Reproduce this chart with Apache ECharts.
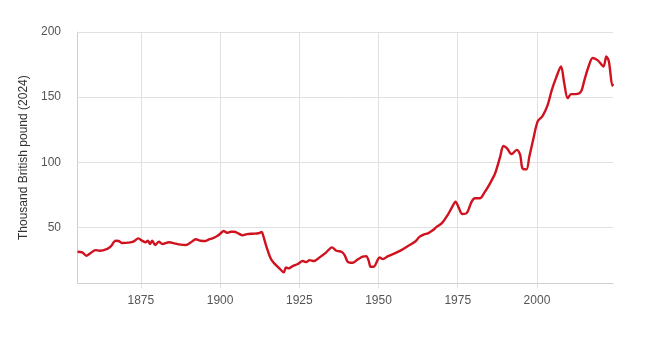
<!DOCTYPE html>
<html>
<head>
<meta charset="utf-8">
<script src="https://cdn.jsdelivr.net/npm/echarts@6/dist/echarts.min.js"></script>
<style>html,body{margin:0;padding:0;background:#fff;}#c{width:650px;height:341px;}</style>
</head>
<body>
<div id="c"></div>
<script>
var years = [1855,1856.5,1857.8,1859,1860.7,1862,1864.4,1865.6,1867,1868,1869,1871.2,1872.8,1874.2,1875.4,1876.5,1877.2,1877.9,1878.6,1879.5,1880.7,1881.8,1883.9,1885.5,1887,1889.2,1890.8,1892.3,1893.9,1895.5,1896.5,1897.6,1899.2,1900.2,1901.1,1902.2,1903.4,1904.5,1905.7,1907.1,1908.5,1910.3,1912.1,1913.1,1913.7,1914.8,1916.1,1917.1,1918.7,1920.1,1920.8,1921.7,1922.9,1924.5,1926.1,1927.2,1928.2,1929.6,1931.4,1933.5,1935.3,1936.7,1938.3,1939.3,1940.3,1941.9,1943.5,1945,1946.1,1946.9,1947.5,1948.5,1949.6,1950.3,1951.4,1953,1955.1,1957.2,1959.3,1961.5,1963,1964.4,1965.6,1967.2,1968.4,1969.9,1972,1973.3,1974.3,1975.4,1976.4,1977.8,1979.4,1980.4,1982,1983.4,1985.2,1986.8,1988.4,1989.4,1990.5,1992,1993.6,1994.7,1995.4,1996.7,1997.6,1998.8,2000.2,2001.8,2003.4,2004.7,2006,2007.6,2008.6,2009.7,2010.8,2012.3,2013.9,2015,2016.3,2017.6,2019.2,2021,2021.9,2022.7,2023.8,2024];
var values = [31.2,30.8,28.2,30,32.5,32,33.5,35.6,39.7,39.5,37.9,38.2,39.2,41.5,39.7,38.5,39.7,37.2,39.7,36.4,38.9,37.2,38.5,37.7,36.9,36.4,38.5,40.8,39.7,39.5,40.8,41.5,43.5,45.4,47.2,45.8,46.6,46.6,45.4,43.8,44.8,45.1,45.4,46.4,42.8,33.8,25.4,22.3,18.5,15.4,19.2,18.5,20.2,21.8,24.1,23.3,24.8,24.1,26.9,30.8,34.6,32,31.2,28.7,23.5,22.8,25.4,27.4,27.9,24.3,19.7,19.7,24.3,26.9,25.6,27.9,30,32.5,35.6,38.9,42.8,44.6,45.4,47.9,50.5,53,60.2,65.9,69.7,64.6,60.2,60.8,69.7,72.3,72.3,76.6,83.8,91.5,104.3,112.5,110.8,106.2,109.5,105.6,95.4,94.5,104.3,117.2,131.2,135.6,144.1,155.6,164.6,173.5,160.8,149.2,152.3,152.3,154.3,163.3,173.5,180,178.2,173.5,181.2,177.4,158.7,160.2];
var xTicks = [1875,1900,1925,1950,1975,2000];
var yTicks = [50,100,150,200];
var yTitle = 'Thousand British pound (2024)';

var data = years.map(function(y,i){return [y, values[i]];});
var gridMarks = yTicks.map(function(v){return {yAxis:v};}).concat(xTicks.map(function(v){return {xAxis:v};}));
var font = 'Liberation Sans, Arial, sans-serif';
var chart = echarts.init(document.getElementById('c'));
chart.setOption({
  animation:false,
  grid:{left:77.5,right:37,top:32,bottom:57.7},
  xAxis:{type:'value',min:1855,max:2024,
    axisLine:{show:true,lineStyle:{color:'#cfcfcf'}},
    axisTick:{show:true,customValues:xTicks,length:5,lineStyle:{color:'#dddddd'}},
    axisLabel:{customValues:xTicks,margin:11,color:'#555',fontSize:12,fontFamily:font,
      formatter:function(v){return String(v);}},
    splitLine:{show:false}},
  yAxis:{type:'value',min:7,max:200,
    name:yTitle,nameLocation:'middle',nameGap:38,nameRotate:90,
    nameTextStyle:{color:'#333',fontSize:12,fontFamily:font},
    axisLine:{show:true,lineStyle:{color:'#cfcfcf'}},
    axisTick:{show:false},
    axisLabel:{customValues:yTicks,margin:16.5,color:'#555',fontSize:12,fontFamily:font,padding:[0,0,11,0]},
    splitLine:{show:false}},
  series:[
    {type:'line',data:[],z:1,zlevel:0,silent:true,
      markLine:{silent:true,z:1,symbol:'none',label:{show:false},animation:false,
        lineStyle:{color:'#e0e0e0',type:'solid',width:1},data:gridMarks}},
    {type:'line',data:data,z:20,smooth:0.3,showSymbol:false,
      lineStyle:{color:'#d0121f',width:2.4},itemStyle:{color:'#d0121f'}}
  ]
});
</script>
</body>
</html>
